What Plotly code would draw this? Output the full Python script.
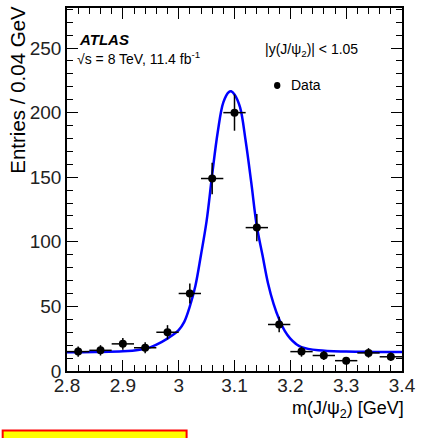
import plotly.graph_objects as go

# ---- data ----
mass = [2.82, 2.86, 2.90, 2.94, 2.98, 3.02, 3.06, 3.10, 3.14, 3.18, 3.22, 3.26, 3.30, 3.34, 3.38]
entries = [15, 16, 21, 18, 30, 60, 149, 200, 111, 36, 15, 12, 8, 14, 11]
entries_err = [4, 4, 4.5, 4.2, 5.5, 7.7, 12.2, 14, 10.5, 6, 3.9, 3.5, 2.8, 3.7, 3.3]
bin_half_width = [0.02] * len(mass)

fit_x = [2.80, 2.85, 2.90, 2.93, 2.95, 2.97, 2.99, 3.00, 3.01, 3.02, 3.03, 3.04, 3.05,
         3.06, 3.07, 3.08, 3.09, 3.094, 3.10, 3.11, 3.12, 3.13, 3.14, 3.15, 3.16, 3.17,
         3.18, 3.19, 3.20, 3.21, 3.22, 3.25, 3.30, 3.35, 3.40]
fit_y = [14.5, 14.7, 15.2, 16.5, 18.5, 22.5, 28, 31.6, 38, 50, 66, 90, 116,
         152, 185, 208, 216, 216.5, 214, 204, 178, 146, 112, 90, 68, 52,
         40, 31, 25, 21, 18.5, 16, 15, 14.8, 14.8]

x_ticks = [2.8, 2.9, 3.0, 3.1, 3.2, 3.3, 3.4]
x_tick_labels = ["2.8", "2.9", "3", "3.1", "3.2", "3.3", "3.4"]
y_ticks = [0, 50, 100, 150, 200, 250]

FONT = "Liberation Sans, Arial, sans-serif"

fig = go.Figure()
fig.add_trace(go.Scatter(
    x=fit_x, y=fit_y, mode="lines", line=dict(color="#0000ff", width=2.5, shape="spline"),
    showlegend=False, hoverinfo="skip"))
fig.add_trace(go.Scatter(
    x=mass, y=entries, mode="markers",
    marker=dict(color="black", size=8),
    error_y=dict(type="data", array=entries_err, color="black", thickness=1.5, width=0),
    error_x=dict(type="data", array=bin_half_width, color="black", thickness=1.5, width=0),
    name="Data", showlegend=False))

axis_common = dict(
    showline=True, linecolor="black", linewidth=1.5, mirror="ticks",
    ticks="inside", ticklen=11, tickwidth=1.2, tickcolor="black",
    showgrid=False, zeroline=False,
    tickfont=dict(family=FONT, size=19, color="#222"),
)

fig.update_xaxes(
    range=[2.8, 3.4], tickvals=x_ticks, ticktext=x_tick_labels, ticklabelstandoff=-4,
    minor=dict(dtick=0.02, tick0=2.8, ticks="inside", ticklen=6, tickcolor="black", tickwidth=1.2),
    **axis_common)
fig.update_yaxes(
    range=[0, 281], tickvals=y_ticks,
    minor=dict(dtick=10, tick0=0, ticks="inside", ticklen=6, tickcolor="black", tickwidth=1.2),
    **axis_common)

annotations = [
    dict(text="Entries / 0.04 GeV", xref="paper", yref="paper", x=-0.146, y=1.012,
         xanchor="center", yanchor="top", textangle=-90, showarrow=False,
         font=dict(family=FONT, size=20.5, color="black")),
    dict(text="m(J/ψ<sub>2</sub>) [GeV]", xref="paper", yref="paper", x=1.012, y=-0.07,
         xanchor="right", yanchor="top", showarrow=False,
         font=dict(family=FONT, size=18, color="black")),
    dict(text="<b><i>ATLAS</i></b>", xref="paper", yref="paper", x=0.03, y=0.914,
         xanchor="left", yanchor="middle", showarrow=False,
         font=dict(family=FONT, size=15, color="black")),
    dict(text="√s = 8 TeV, 11.4 fb<sup>-1</sup>", xref="paper", yref="paper", x=0.025, y=0.862,
         xanchor="left", yanchor="middle", showarrow=False,
         font=dict(family=FONT, size=14, color="black")),
    dict(text="|y(J/ψ<sub>2</sub>)| < 1.05", xref="paper", yref="paper", x=0.585, y=0.885,
         xanchor="left", yanchor="middle", showarrow=False,
         font=dict(family=FONT, size=14, color="black")),
    dict(text="Data", xref="paper", yref="paper", x=0.663, y=0.787,
         xanchor="left", yanchor="middle", showarrow=False,
         font=dict(family=FONT, size=14, color="black")),
]

shapes = [
    dict(type="circle", xref="paper", yref="paper", x0=0.618, x1=0.637, y0=0.777, y1=0.796,
         fillcolor="black", line=dict(color="black", width=0)),
    dict(type="rect", xref="paper", yref="paper", x0=-0.192, x1=0.357, y0=-0.193, y1=-0.164,
         fillcolor="#ffff00", line=dict(color="#ff0000", width=2)),
]

fig.update_layout(
    width=422, height=438,
    margin=dict(l=67, r=15, t=6, b=67),
    paper_bgcolor="white", plot_bgcolor="white",
    annotations=annotations, shapes=shapes,
    showlegend=False,
)

fig.write_html("out.html")
